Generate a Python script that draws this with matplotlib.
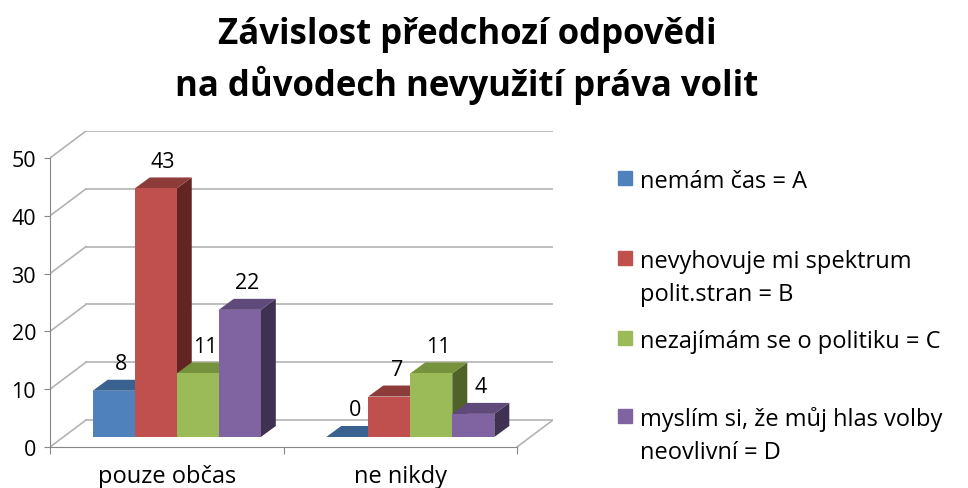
import matplotlib.pyplot as plt
from matplotlib.patches import Polygon, Rectangle

plt.rcParams['font.family'] = ['Open Sans', 'DejaVu Sans']

# data
categories = ['pouze občas', 'ne nikdy']
series_names = ['nemám čas = A',
                'nevyhovuje mi spektrum\npolit.stran = B',
                'nezajímám se o politiku = C',
                'myslím si, že můj hlas volby\nneovlivní = D']
values_A = [8, 0]
values_B = [43, 7]
values_C = [11, 11]
values_D = [22, 4]
series = [values_A, values_B, values_C, values_D]
yticks = [0, 10, 20, 30, 40, 50]
title_lines = ['Závislost předchozí odpovědi', 'na důvodech nevyužití práva volit']

# colours: front face, top face, side face
front = ['#4F81BD', '#C0504D', '#9BBB59', '#8064A2']
top = ['#3A6291', '#8E3C3A', '#76923C', '#604A7B']
side = ['#2C4D75', '#632523', '#4F6228', '#3F3151']

W, H = 968, 489
fig = plt.figure(figsize=(W / 100, H / 100), dpi=100)
ax = fig.add_axes([50 / W, 41 / H, 503 / W, 316 / H])

# fake 3d: depth of walls and of bars (data units)
px_x = 503 / (2 + 36 / 233.5)
px_y = 5.78
ddx, ddy = 36 / px_x, 27 / px_y          # box depth
bx, by = 10 / px_x, 10 / px_y            # where bars sit in the depth
bdx, bdy = 15 / px_x, 11 / px_y          # bar depth
ax.set_xlim(0, 2 + ddx)
ax.set_ylim(0, 50 + ddy)

grid_c = '#b3b3b3'
axis_c = '#868686'
for y in yticks:
    ax.plot([ddx, 2 + ddx], [y + ddy, y + ddy], color=grid_c, lw=1.2, zorder=1)
    ax.plot([0, ddx], [y, y + ddy], color=grid_c, lw=1.2, zorder=1)
ax.plot([2, 2 + ddx], [0, ddy], color=grid_c, lw=1.2, zorder=1)

n = len(series)
bw = 0.18
for i, vals in enumerate(series):
    xs = [j + 0.5 - bw * n / 2 + i * bw + bx for j in range(len(categories))]
    ax.bar(xs, vals, width=bw, bottom=by, align='edge', color=front[i],
           zorder=3 + 3 * i + 2)
    for x0, v in zip(xs, vals):
        y1 = by + v
        ax.add_patch(Polygon([(x0 + bw, by), (x0 + bw + bdx, by + bdy),
                              (x0 + bw + bdx, y1 + bdy), (x0 + bw, y1)],
                             closed=True, color=side[i], lw=0, zorder=3 + 3 * i))
        ax.add_patch(Polygon([(x0, y1), (x0 + bw, y1), (x0 + bw + bdx, y1 + bdy),
                              (x0 + bdx, y1 + bdy)],
                             closed=True, color=top[i], lw=0, zorder=3 + 3 * i + 1))
        ax.annotate(str(v), (x0 + bw / 2 + bdx / 2, y1 + bdy), xytext=(0, 4),
                    textcoords='offset points', ha='center', va='bottom',
                    fontsize=15.5, zorder=30)

for s in ['top', 'right']:
    ax.spines[s].set_visible(False)
ax.spines['left'].set_bounds(0, 50)
ax.spines['bottom'].set_bounds(0, 2)
ax.spines['left'].set_color(axis_c)
ax.spines['bottom'].set_color(axis_c)
ax.set_yticks(yticks)
ax.tick_params(axis='y', length=4, color=axis_c, labelsize=15.5, pad=6)
ax.set_xticks([0, 1, 2])
ax.set_xticklabels([])
ax.tick_params(axis='x', which='major', length=5, color=axis_c)
ax.set_xticks([0.5, 1.5], minor=True)
ax.set_xticklabels(categories, minor=True)
ax.tick_params(axis='x', which='minor', length=0, labelsize=17, pad=12)
ax.patch.set_visible(False)

# title
for k, line in enumerate(title_lines):
    fig.text(467 / W, 1 - (44 + 52 * k) / H, line, ha='center', va='baseline',
             fontsize=25, fontweight='bold')

# legend (square next to the first line of each entry)
leg_y = [179, 259, 339, 417]
for i, name in enumerate(series_names):
    yc = 1 - leg_y[i] / H
    fig.patches.append(Rectangle((618 / W, yc - 7 / H), 14 / W, 14 / H,
                                 transform=fig.transFigure, color=front[i]))
    for k, part in enumerate(name.split('\n')):
        fig.text(640 / W, yc - k * 33 / H, part, ha='left',
                 va='center_baseline', fontsize=17)

fig.savefig('out.png', dpi=100)
